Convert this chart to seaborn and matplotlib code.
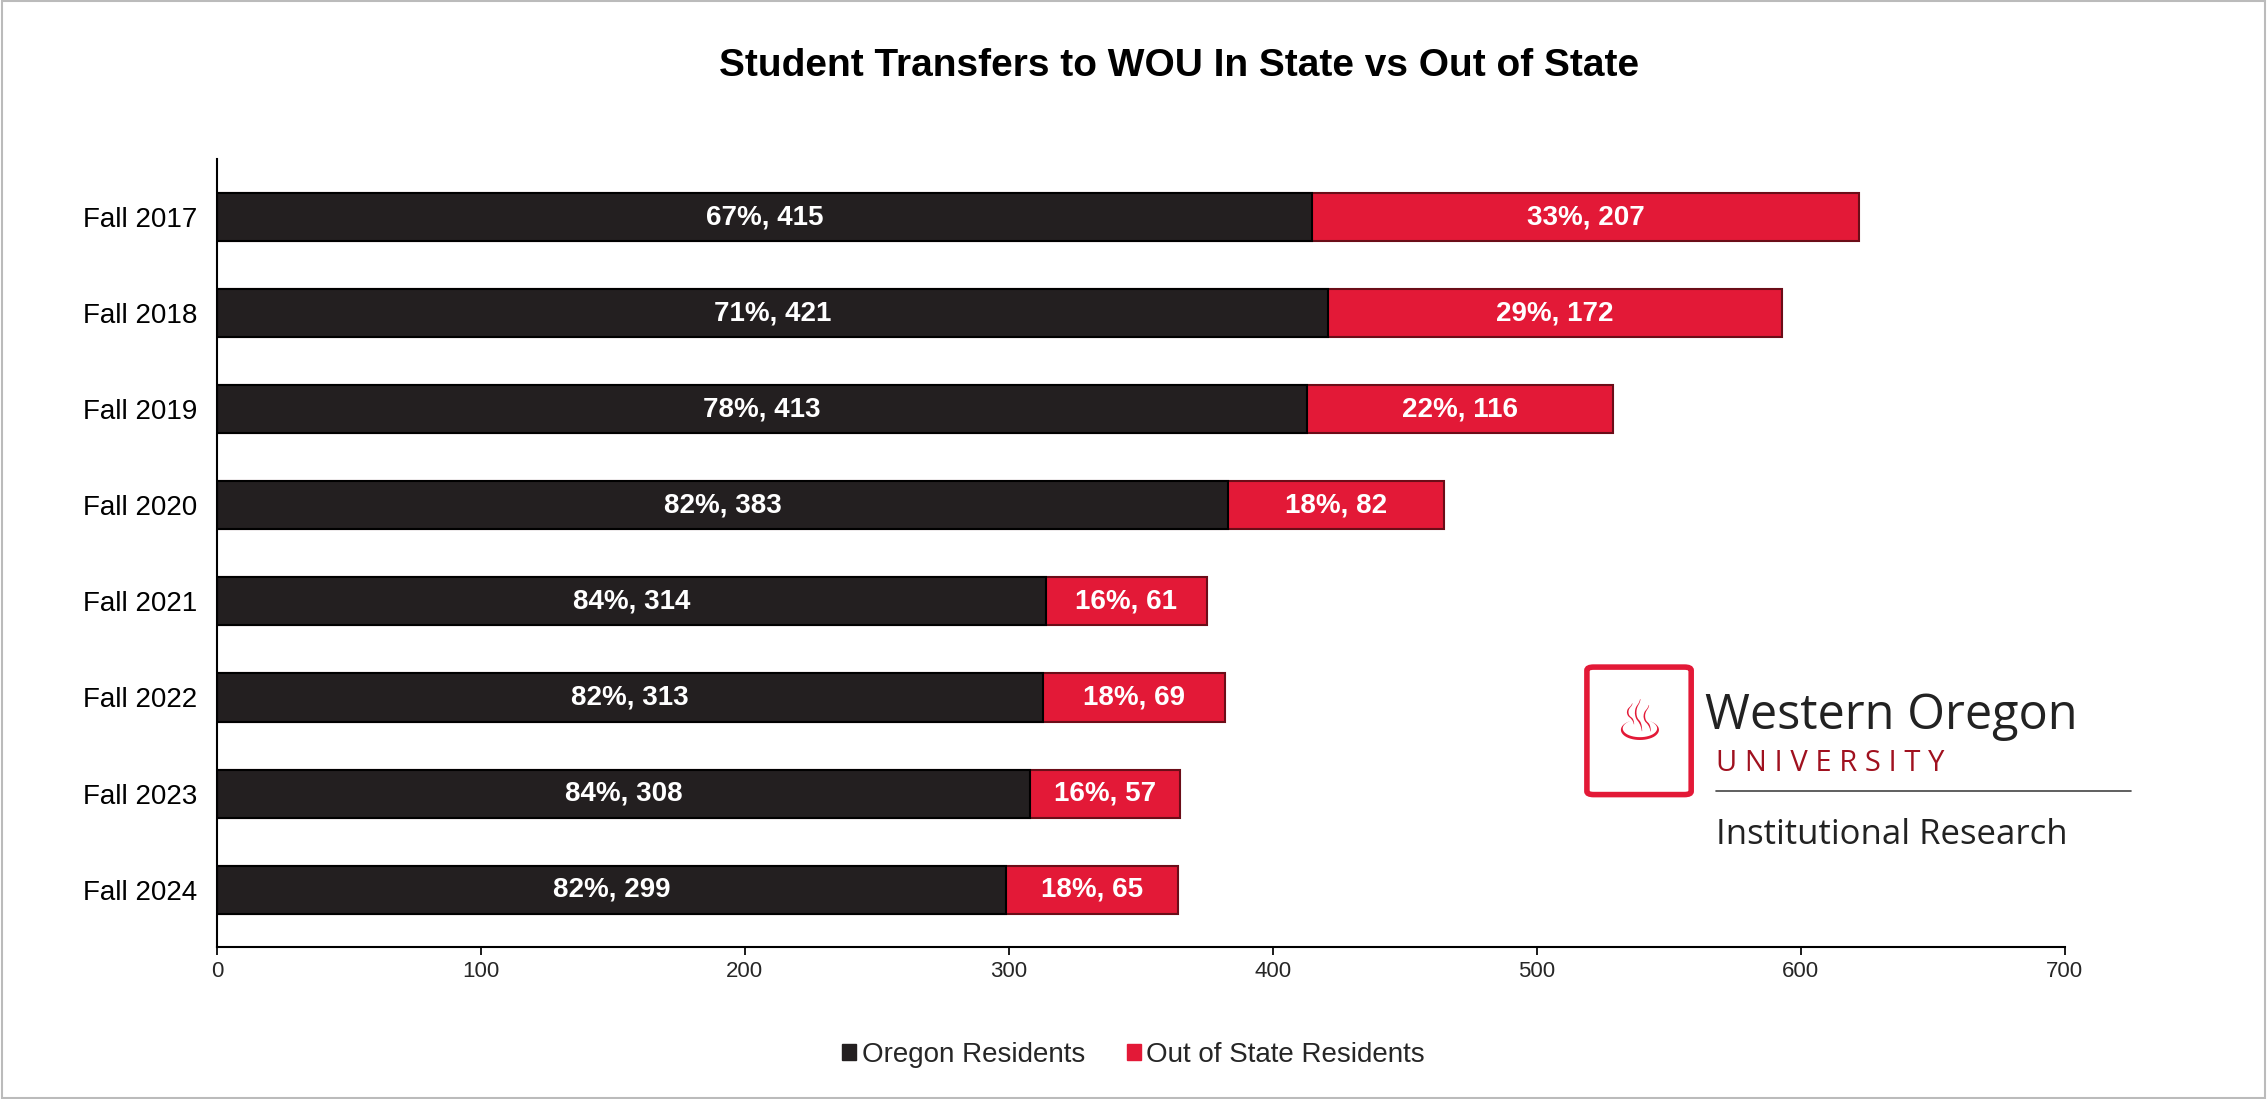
import matplotlib
matplotlib.use("Agg")
import matplotlib.pyplot as plt
import matplotlib.patches as mpatches
import seaborn as sns
import pandas as pd

terms = ["Fall 2017", "Fall 2018", "Fall 2019", "Fall 2020",
         "Fall 2021", "Fall 2022", "Fall 2023", "Fall 2024"]
oregon = [415, 421, 413, 383, 314, 313, 308, 299]
out_state = [207, 172, 116, 82, 61, 69, 57, 65]
oregon_pct = [67, 71, 78, 82, 84, 82, 84, 82]
out_pct = [33, 29, 22, 18, 16, 18, 16, 18]

BLACK = "#231F20"
RED = "#E31937"

plt.rcParams["font.family"] = "Liberation Sans"
sns.set_theme(style="white", rc={"font.family": "Liberation Sans"})

fig = plt.figure(figsize=(22.67, 10.99), dpi=100)
ax = fig.add_axes([0.0957, 0.138, 0.815, 0.717])

df = pd.DataFrame({"term": terms, "oregon": oregon,
                   "total": [a + b for a, b in zip(oregon, out_state)]})
# total bar in red, oregon bar on top in black
sns.barplot(data=df, y="term", x="total", color=RED, width=0.5,
            edgecolor="#6b0d18", linewidth=1.5, ax=ax, saturation=1)
sns.barplot(data=df, y="term", x="oregon", color=BLACK, width=0.5,
            edgecolor="#000000", linewidth=1.5, ax=ax, saturation=1)

for i in range(len(terms)):
    ax.text(oregon[i] / 2, i, f"{oregon_pct[i]}%, {oregon[i]}", color="white",
            ha="center", va="center", fontsize=20, fontweight="bold")
    ax.text(oregon[i] + out_state[i] / 2, i, f"{out_pct[i]}%, {out_state[i]}",
            color="white", ha="center", va="center", fontsize=20, fontweight="bold")

ax.set_xlim(0, 700)
ax.set_ylim(7.6, -0.6)
ax.set_xticks(range(0, 701, 100))
ax.tick_params(axis="x", labelsize=16, length=6, color="black", bottom=True)
ax.tick_params(axis="y", labelsize=20, length=0, pad=14, labelcolor="black")
ax.set_xlabel("")
ax.set_ylabel("")
for s in ["top", "right"]:
    ax.spines[s].set_visible(False)
ax.spines["left"].set_color("black")
ax.spines["bottom"].set_color("black")
ax.spines["left"].set_linewidth(1.5)
ax.spines["bottom"].set_linewidth(1.5)

fig.text(0.52, 0.94, "Student Transfers to WOU In State vs Out of State",
         ha="center", va="center", fontsize=28, fontweight="bold", color="black")

handles = [mpatches.Patch(color=BLACK, label="Oregon Residents"),
           mpatches.Patch(color=RED, label="Out of State Residents")]
fig.legend(handles=handles, loc="center", bbox_to_anchor=(0.5, 0.04), ncol=2,
           frameon=False, fontsize=20, handlelength=0.5, handleheight=0.5,
           columnspacing=1.5, handletextpad=0.2)

# logo block
shield = mpatches.FancyBboxPatch((0.703, 0.28), 0.04, 0.11, boxstyle="round,pad=0.003",
                                 transform=fig.transFigure, facecolor="white",
                                 edgecolor=RED, linewidth=4)
fig.patches.append(shield)
fig.text(0.723, 0.34, "\u2668", color=RED, ha="center", va="center", fontsize=40,
         family="DejaVu Sans")
fig.text(0.752, 0.348, "Western Oregon", fontsize=35, color="#222222", va="center",
         family="Open Sans")
fig.text(0.757, 0.305, "U N I V E R S I T Y", fontsize=21, color="#a0111f", va="center",
         family="Open Sans")
fig.add_artist(plt.Line2D([0.757, 0.94], [0.28, 0.28], color="#444444", lw=1.2,
                          transform=fig.transFigure))
fig.text(0.757, 0.24, "Institutional Research", fontsize=25, color="#222222",
         va="center", family="Open Sans")

fig.add_artist(mpatches.Rectangle((0.001, 0.001), 0.998, 0.998, transform=fig.transFigure,
                                  fill=False, edgecolor="#bbbbbb", lw=1.5))

fig.savefig("out.png", dpi=100)
